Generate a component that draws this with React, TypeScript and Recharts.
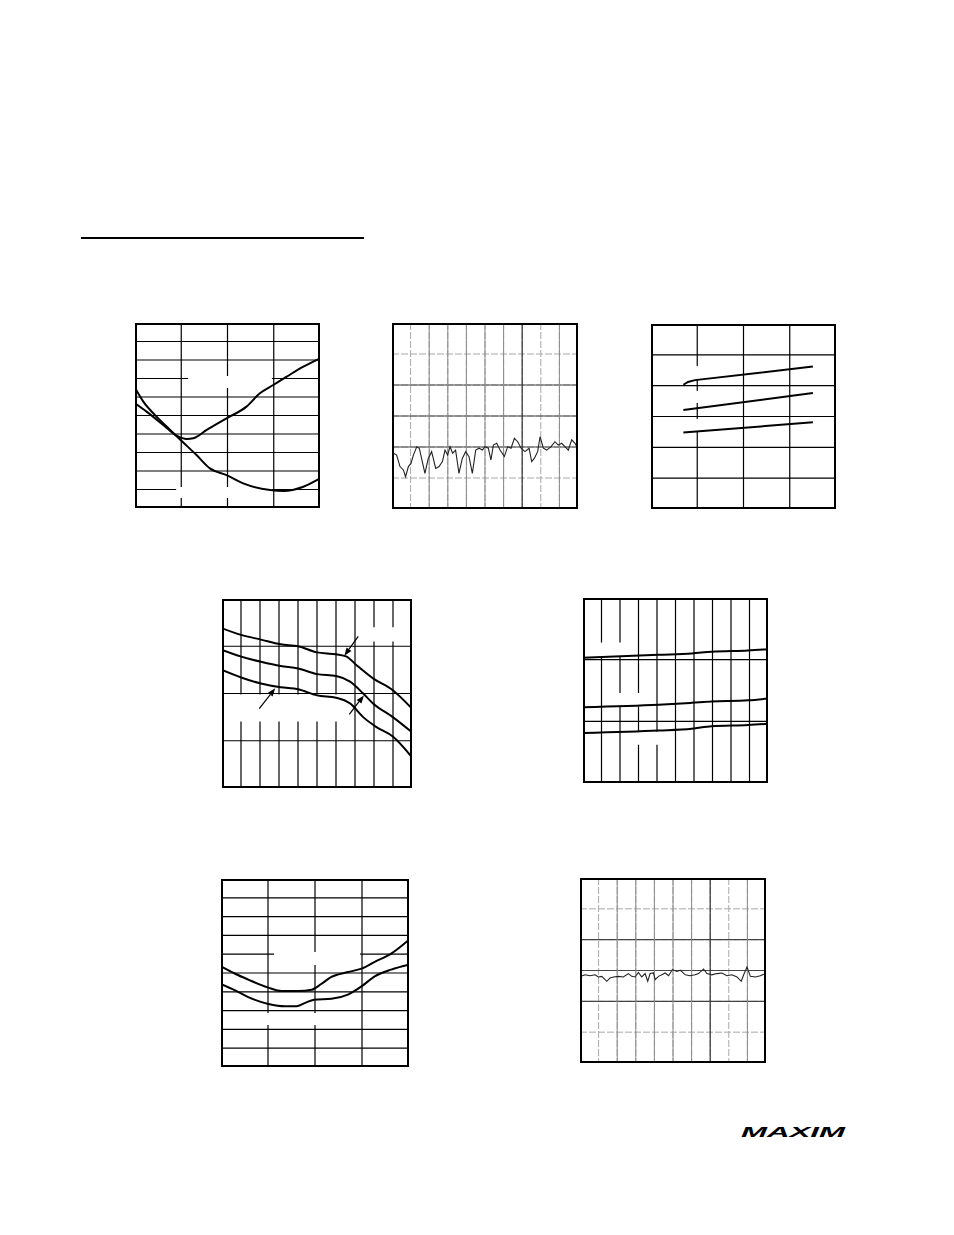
import React from 'react';
import {
  LineChart,
  Line,
  XAxis,
  YAxis,
  CartesianGrid,
  ReferenceArea,
  ReferenceLine,
} from 'recharts';

type Pt = { x: number; y: number };

// ---- top-left: two crossing curves (4 x 10 grid)
const c1Rise: Pt[] = [
  { x: 0, y: 5.66 }, { x: 0.25, y: 5.21 }, { x: 0.61, y: 4.49 }, { x: 0.9, y: 3.91 },
  { x: 1.12, y: 3.73 }, { x: 1.26, y: 3.77 }, { x: 1.55, y: 4.22 }, { x: 1.98, y: 4.85 },
  { x: 2.41, y: 5.48 }, { x: 2.7, y: 6.2 }, { x: 2.99, y: 6.65 }, { x: 3.28, y: 7.1 },
  { x: 3.64, y: 7.64 }, { x: 4, y: 8.09 },
];
const c1Fall: Pt[] = [
  { x: 0, y: 6.5 }, { x: 0.18, y: 5.75 }, { x: 0.43, y: 5.03 }, { x: 0.76, y: 4.22 },
  { x: 1.01, y: 3.62 }, { x: 1.33, y: 2.86 }, { x: 1.62, y: 2.14 }, { x: 1.98, y: 1.78 },
  { x: 2.34, y: 1.33 }, { x: 2.92, y: 0.97 }, { x: 3.21, y: 0.92 }, { x: 3.64, y: 1.15 },
  { x: 4, y: 1.6 },
];

// ---- top-middle: scope trace (10 x 6 divisions)
const c2Trace: Pt[] = [
  { x: 0.07, y: 1.8 }, { x: 0.25, y: 1.74 }, { x: 0.43, y: 1.37 }, { x: 0.61, y: 1.26 },
  { x: 0.73, y: 1.04 }, { x: 0.88, y: 1.37 }, { x: 1.02, y: 1.47 }, { x: 1.15, y: 1.74 },
  { x: 1.33, y: 2.01 }, { x: 1.47, y: 1.96 }, { x: 1.59, y: 1.63 }, { x: 1.77, y: 1.15 },
  { x: 1.95, y: 1.63 }, { x: 2.13, y: 1.85 }, { x: 2.35, y: 1.31 }, { x: 2.53, y: 1.37 },
  { x: 2.71, y: 1.53 }, { x: 2.85, y: 1.9 }, { x: 2.99, y: 1.74 }, { x: 3.12, y: 2.01 },
  { x: 3.26, y: 1.8 }, { x: 3.42, y: 1.9 }, { x: 3.6, y: 1.15 }, { x: 3.78, y: 1.63 },
  { x: 3.96, y: 1.85 }, { x: 4.14, y: 1.69 }, { x: 4.32, y: 1.15 }, { x: 4.5, y: 1.9 },
  { x: 4.68, y: 1.96 }, { x: 4.86, y: 1.9 }, { x: 5.0, y: 2.01 }, { x: 5.18, y: 1.96 },
  { x: 5.32, y: 1.58 }, { x: 5.45, y: 2.06 }, { x: 5.63, y: 2.12 }, { x: 5.81, y: 1.9 },
  { x: 6.04, y: 1.69 }, { x: 6.22, y: 2.01 }, { x: 6.4, y: 1.96 }, { x: 6.58, y: 2.28 },
  { x: 6.76, y: 2.17 }, { x: 6.94, y: 1.96 }, { x: 7.15, y: 1.85 }, { x: 7.37, y: 1.96 },
  { x: 7.51, y: 1.53 }, { x: 7.65, y: 1.63 }, { x: 7.83, y: 1.85 }, { x: 7.96, y: 2.33 },
  { x: 8.14, y: 1.96 }, { x: 8.32, y: 1.9 }, { x: 8.55, y: 2.01 }, { x: 8.76, y: 2.17 },
  { x: 8.94, y: 2.06 }, { x: 9.12, y: 2.12 }, { x: 9.3, y: 2.01 }, { x: 9.48, y: 1.9 },
  { x: 9.66, y: 2.23 }, { x: 9.84, y: 2.12 }, { x: 9.98, y: 1.96 },
];

// ---- top-right: three straight lines (4 x 6 grid)
const c3Upper: Pt[] = [
  { x: 0.7, y: 4.03 }, { x: 0.8, y: 4.12 }, { x: 0.95, y: 4.18 }, { x: 3.5, y: 4.62 },
];
const c3Middle: Pt[] = [{ x: 0.7, y: 3.21 }, { x: 3.5, y: 3.76 }];
const c3Lower: Pt[] = [{ x: 0.7, y: 2.48 }, { x: 3.5, y: 2.81 }];

// ---- middle-left: three falling curves with arrows (10 x 4 grid)
const c4Top: Pt[] = [
  { x: 0, y: 3.38 }, { x: 1.01, y: 3.24 }, { x: 2.05, y: 3.14 }, { x: 3.09, y: 3.04 },
  { x: 4.01, y: 3.0 }, { x: 5.0, y: 2.87 }, { x: 6.01, y: 2.83 }, { x: 6.56, y: 2.78 },
  { x: 7.08, y: 2.6 }, { x: 7.95, y: 2.32 }, { x: 8.99, y: 2.07 }, { x: 10, y: 1.68 },
];
const c4Mid: Pt[] = [
  { x: 0, y: 2.92 }, { x: 1.01, y: 2.78 }, { x: 2.05, y: 2.67 }, { x: 3.09, y: 2.58 },
  { x: 4.01, y: 2.53 }, { x: 5.0, y: 2.41 }, { x: 6.01, y: 2.37 }, { x: 6.74, y: 2.25 },
  { x: 7.43, y: 2.0 }, { x: 7.95, y: 1.79 }, { x: 8.99, y: 1.5 }, { x: 10, y: 1.18 },
];
const c4Low: Pt[] = [
  { x: 0, y: 2.5 }, { x: 1.01, y: 2.34 }, { x: 2.05, y: 2.21 }, { x: 3.09, y: 2.13 },
  { x: 4.01, y: 2.09 }, { x: 5.0, y: 1.96 }, { x: 6.01, y: 1.91 }, { x: 6.74, y: 1.79 },
  { x: 7.43, y: 1.5 }, { x: 8.13, y: 1.29 }, { x: 8.99, y: 1.09 }, { x: 10, y: 0.65 },
];
// tail -> head
const c4Arrows: [Pt, Pt][] = [
  [{ x: 7.17, y: 3.21 }, { x: 6.44, y: 2.8 }],
  [{ x: 1.96, y: 1.68 }, { x: 2.8, y: 2.11 }],
  [{ x: 6.7, y: 1.56 }, { x: 7.47, y: 1.96 }],
];

// ---- middle-right: three nearly flat lines (10 x 3 grid)
const c5Top: Pt[] = [
  { x: 0, y: 2.03 }, { x: 4.09, y: 2.08 }, { x: 5.88, y: 2.1 }, { x: 6.95, y: 2.13 },
  { x: 8.92, y: 2.15 }, { x: 10, y: 2.17 },
];
const c5Mid: Pt[] = [
  { x: 0, y: 1.23 }, { x: 4.09, y: 1.27 }, { x: 5.88, y: 1.3 }, { x: 6.95, y: 1.32 },
  { x: 8.92, y: 1.34 }, { x: 10, y: 1.37 },
];
const c5Low: Pt[] = [
  { x: 0, y: 0.81 }, { x: 4.09, y: 0.85 }, { x: 5.88, y: 0.88 }, { x: 6.95, y: 0.92 },
  { x: 8.92, y: 0.94 }, { x: 10, y: 0.96 },
];

// ---- bottom-left: two U-shaped curves (4 x 10 grid)
const c6Upper: Pt[] = [
  { x: 0, y: 5.35 }, { x: 0.3, y: 4.96 }, { x: 0.58, y: 4.65 }, { x: 1.01, y: 4.22 },
  { x: 1.29, y: 4.04 }, { x: 1.64, y: 4.04 }, { x: 1.93, y: 4.11 }, { x: 2.14, y: 4.43 },
  { x: 2.35, y: 4.79 }, { x: 2.7, y: 5.05 }, { x: 2.99, y: 5.23 }, { x: 3.27, y: 5.59 },
  { x: 3.62, y: 6.03 }, { x: 4, y: 6.77 },
];
const c6Lower: Pt[] = [
  { x: 0, y: 4.41 }, { x: 0.3, y: 4.08 }, { x: 0.58, y: 3.72 }, { x: 1.01, y: 3.35 },
  { x: 1.36, y: 3.23 }, { x: 1.61, y: 3.23 }, { x: 1.78, y: 3.4 }, { x: 1.98, y: 3.58 },
  { x: 2.35, y: 3.63 }, { x: 2.7, y: 3.85 }, { x: 2.99, y: 4.29 }, { x: 3.27, y: 4.82 },
  { x: 3.62, y: 5.18 }, { x: 4, y: 5.44 },
];

// ---- bottom-right: scope trace (10 x 6 divisions)
const c7Trace: Pt[] = [
  { x: 0.05, y: 2.81 }, { x: 0.27, y: 2.86 }, { x: 0.54, y: 2.83 }, { x: 0.81, y: 2.86 },
  { x: 0.99, y: 2.79 }, { x: 1.17, y: 2.81 }, { x: 1.44, y: 2.65 }, { x: 1.62, y: 2.76 },
  { x: 1.8, y: 2.79 }, { x: 2.06, y: 2.81 }, { x: 2.33, y: 2.79 }, { x: 2.6, y: 2.9 },
  { x: 2.78, y: 2.81 }, { x: 2.96, y: 2.79 }, { x: 3.14, y: 2.94 }, { x: 3.32, y: 2.79 },
  { x: 3.5, y: 2.9 }, { x: 3.64, y: 2.65 }, { x: 3.77, y: 2.9 }, { x: 3.95, y: 2.92 },
  { x: 4.04, y: 2.7 }, { x: 4.22, y: 2.81 }, { x: 4.4, y: 2.86 }, { x: 4.58, y: 2.92 },
  { x: 4.76, y: 2.83 }, { x: 4.97, y: 3.03 }, { x: 5.21, y: 2.97 }, { x: 5.39, y: 3.01 },
  { x: 5.66, y: 2.86 }, { x: 5.92, y: 2.83 }, { x: 6.19, y: 2.86 }, { x: 6.37, y: 2.9 },
  { x: 6.64, y: 3.05 }, { x: 6.82, y: 2.9 }, { x: 7.09, y: 2.86 }, { x: 7.36, y: 2.9 },
  { x: 7.63, y: 2.92 }, { x: 7.9, y: 2.83 }, { x: 8.17, y: 2.86 }, { x: 8.44, y: 2.79 },
  { x: 8.67, y: 2.65 }, { x: 8.8, y: 2.86 }, { x: 8.98, y: 3.11 }, { x: 9.16, y: 2.81 },
  { x: 9.43, y: 2.79 }, { x: 9.69, y: 2.83 }, { x: 9.96, y: 2.9 },
];

// spots where the original labels were blanked out of the grid
type Gap = { x1: number; x2: number; y1: number; y2: number };
const c1Gaps: Gap[] = [
  { x1: 1.15, x2: 2.96, y1: 6.49, y2: 7.14 },
  { x1: 0.89, x2: 2.96, y1: 0.54, y2: 1.14 },
];
const c3Gaps: Gap[] = [
  { x1: 0.74, x2: 1.17, y1: 4.18, y2: 4.64 },
  { x1: 0.74, x2: 1.17, y1: 3.44, y2: 3.83 },
  { x1: 0.74, x2: 1.17, y1: 2.53, y2: 2.92 },
];
const c4Gaps: Gap[] = [
  { x1: 7.53, x2: 9.47, y1: 3.1, y2: 3.4 },
  { x1: 0.53, x2: 6.53, y1: 1.41, y2: 1.98 },
];
const c5Gaps: Gap[] = [
  { x1: 0.65, x2: 2.43, y1: 2.05, y2: 2.28 },
  { x1: 1.73, x2: 3.62, y1: 1.24, y2: 1.46 },
  { x1: 2.54, x2: 4.43, y1: 0.62, y2: 0.83 },
];
const c6Gaps: Gap[] = [
  { x1: 1.13, x2: 2.96, y1: 5.43, y2: 6.12 },
  { x1: 0.87, x2: 2.15, y1: 2.23, y2: 2.87 },
];

const range = (n: number) => Array.from({ length: n + 1 }, (_, i) => i);

const ArrowShape = (props: any) => {
  const { x1, y1, x2, y2 } = props;
  const a = Math.atan2(y2 - y1, x2 - x1);
  const len = 8;
  const w = 3;
  const bx = x2 - len * Math.cos(a);
  const by = y2 - len * Math.sin(a);
  const px = -Math.sin(a) * w;
  const py = Math.cos(a) * w;
  return (
    <g>
      <line x1={x1} y1={y1} x2={bx} y2={by} stroke="#000" strokeWidth={1.2} />
      <polygon points={`${x2},${y2} ${bx + px},${by + py} ${bx - px},${by - py}`} fill="#000" />
    </g>
  );
};

interface PanelProps {
  left: number;
  top: number;
  w: number;
  h: number;
  cols: number;
  rows: number;
  scope?: boolean;
  gaps?: Gap[];
  children?: React.ReactNode;
}

const Panel: React.FC<PanelProps> = ({ left, top, w, h, cols, rows, scope, gaps = [], children }) => (
  <div style={{ position: 'absolute', left, top, width: w, height: h }}>
    <LineChart width={w} height={h} margin={{ top: 0, right: 0, bottom: 0, left: 0 }}>
      <XAxis type="number" dataKey="x" domain={[0, cols]} ticks={range(cols)} interval={0} hide />
      <YAxis type="number" dataKey="y" domain={[0, rows]} ticks={range(rows)} interval={0} hide />
      <CartesianGrid
        stroke={scope ? '#a8a8a8' : '#000'}
        strokeWidth={scope ? 1 : 1.2}
        strokeDasharray={scope ? '7 2' : undefined}
      />
      {scope &&
        [2, 3, 4].map((r) => (
          <ReferenceLine key={`r${r}`} y={r} stroke="#444" strokeWidth={1.2} />
        ))}
      {scope &&
        [2, 3, 4, 5, 6, 9].map((c) => (
          <ReferenceLine key={`c${c}`} x={c} stroke="#8a8a8a" strokeWidth={1} />
        ))}
      {scope && <ReferenceLine x={7} stroke="#333" strokeWidth={1.2} />}
      {gaps.map((g, i) => (
        <ReferenceArea
          key={`g${i}`}
          x1={g.x1}
          x2={g.x2}
          y1={g.y1}
          y2={g.y2}
          fill="#fff"
          fillOpacity={1}
          stroke="none"
        />
      ))}
      {children}
    </LineChart>
    <div
      style={{
        position: 'absolute',
        left: 0,
        top: 0,
        width: w,
        height: h,
        boxSizing: 'border-box',
        border: '2px solid #000',
      }}
    />
  </div>
);

const curve = (data: Pt[], key: string, type: 'monotone' | 'linear' = 'monotone') => (
  <Line
    key={key}
    data={data}
    dataKey="y"
    type={type}
    stroke="#000"
    strokeWidth={2}
    dot={false}
    isAnimationActive={false}
  />
);

const trace = (data: Pt[], key: string) => (
  <Line
    key={key}
    data={data}
    dataKey="y"
    type="linear"
    stroke="#222"
    strokeWidth={1.1}
    dot={false}
    isAnimationActive={false}
  />
);

export default function App() {
  return (
    <div
      style={{
        position: 'absolute',
        left: 0,
        top: 0,
        width: 954,
        height: 1235,
        background: '#fff',
        overflow: 'hidden',
      }}
    >
      {/* section rule */}
      <div style={{ position: 'absolute', left: 81, top: 237, width: 283, height: 2, background: '#000' }} />

      <Panel left={135} top={323} w={185} h={185} cols={4} rows={10} gaps={c1Gaps}>
        {curve(c1Rise, 'rise')}
        {curve(c1Fall, 'fall')}
      </Panel>

      <Panel left={392} top={323} w={186} h={186} cols={10} rows={6} scope>
        {trace(c2Trace, 'trace')}
      </Panel>

      <Panel left={651} top={324} w={185} h={185} cols={4} rows={6} gaps={c3Gaps}>
        {curve(c3Upper, 'u', 'linear')}
        {curve(c3Middle, 'm', 'linear')}
        {curve(c3Lower, 'l', 'linear')}
      </Panel>

      <Panel left={222} top={599} w={190} h={189} cols={10} rows={4} gaps={c4Gaps}>
        {curve(c4Top, 't')}
        {curve(c4Mid, 'm')}
        {curve(c4Low, 'l')}
        {c4Arrows.map((seg, i) => (
          <ReferenceLine
            key={`a${i}`}
            segment={[seg[0], seg[1]]}
            stroke="#000"
            shape={<ArrowShape />}
          />
        ))}
      </Panel>

      <Panel left={583} top={598} w={185} h={185} cols={10} rows={3} gaps={c5Gaps}>
        {curve(c5Top, 't')}
        {curve(c5Mid, 'm')}
        {curve(c5Low, 'l')}
      </Panel>

      <Panel left={221} top={879} w={188} h={188} cols={4} rows={10} gaps={c6Gaps}>
        {curve(c6Upper, 'u')}
        {curve(c6Lower, 'l')}
      </Panel>

      <Panel left={580} top={878} w={186} h={185} cols={10} rows={6} scope>
        {trace(c7Trace, 'trace')}
      </Panel>

      {/* logo */}
      <svg style={{ position: 'absolute', left: 738, top: 1120 }} width={112} height={22}>
        <text
          x={3}
          y={17}
          textLength={104}
          lengthAdjust="spacingAndGlyphs"
          fontFamily="Liberation Sans, Arial, sans-serif"
          fontWeight={700}
          fontStyle="italic"
          fontSize={15}
          fill="#000"
        >
          MAXIM
        </text>
      </svg>
    </div>
  );
}
